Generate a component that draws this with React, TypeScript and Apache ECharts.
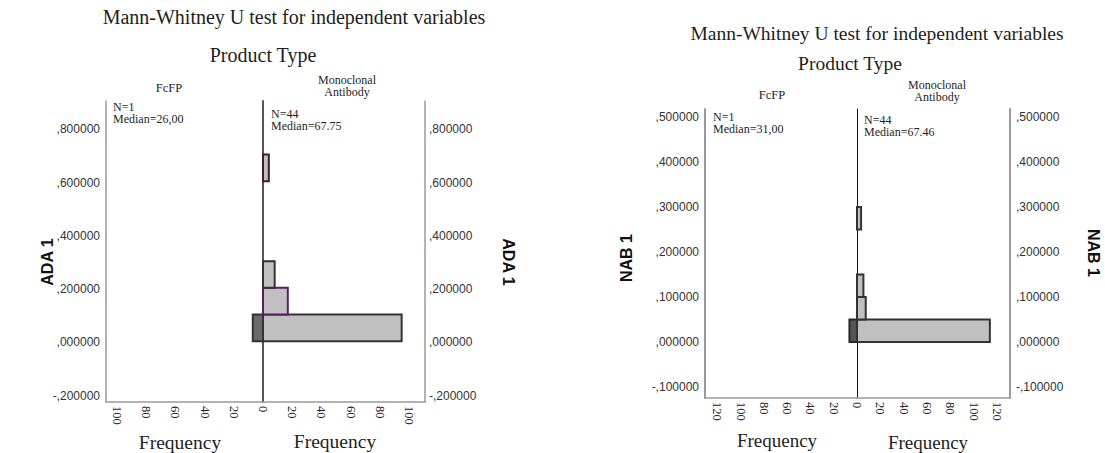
import React, { useEffect, useRef } from "react";
import * as echarts from "echarts";

// ADA 1 histogram bins (value range) and frequencies per product type
const adaBinStart = [0.005, 0.105, 0.205, 0.605];
const adaBinEnd = [0.105, 0.205, 0.305, 0.705];
const adaMonoFreq = [95, 17, 8, 4];
const adaFcfpBinStart = [0.005];
const adaFcfpBinEnd = [0.105];
const adaFcfpFreq = [7];

// NAB 1 histogram bins and frequencies
const nabBinStart = [0, 0.05, 0.1, 0.25];
const nabBinEnd = [0.05, 0.1, 0.15, 0.3];
const nabMonoFreq = [114, 7.5, 5.5, 3.5];
const nabFcfpBinStart = [0];
const nabFcfpBinEnd = [0.05];
const nabFcfpFreq = [6.5];

// Tick labels
const adaYTicks = [-0.2, 0, 0.2, 0.4, 0.6, 0.8];
const nabYTicks = [-0.1, 0, 0.1, 0.2, 0.3, 0.4, 0.5];
const adaFreqTicks = [0, 20, 40, 60, 80, 100];
const nabFreqTicks = [0, 20, 40, 60, 80, 100, 120];

// Group annotations
const adaFcfpStats = ["N=1", "Median=26,00"];
const adaMonoStats = ["N=44", "Median=67.75"];
const nabFcfpStats = ["N=1", "Median=31,00"];
const nabMonoStats = ["N=44", "Median=67.46"];

const titleText = "Mann-Whitney U test for independent variables";
const panelTitle = "Product Type";
const groupLeft = "FcFP";
const groupRight = ["Monoclonal", "Antibody"];
const freqName = "Frequency";

const SERIF = "'Liberation Serif', 'Times New Roman', serif";
const SANS = "'Liberation Sans', Arial, sans-serif";

const fmtY = (v: number) => {
  const s = Math.abs(v).toFixed(6).replace(/^0\./, ",");
  return (v < 0 ? "-" : "") + s;
};

const bins = (start: number[], end: number[], freq: number[]) =>
  start.map((s, i) => [s, end[i], freq[i]]);

const histRender =
  (fill: string, strokeFor: (i: number) => string) => (params: any, api: any) => {
    const lo = api.coord([0, api.value(0)]);
    const hi = api.coord([api.value(2), api.value(1)]);
    return {
      type: "rect",
      shape: {
        x: Math.min(lo[0], hi[0]),
        y: Math.min(lo[1], hi[1]),
        width: Math.abs(hi[0] - lo[0]),
        height: Math.abs(hi[1] - lo[1]),
      },
      style: { fill, stroke: strokeFor(params.dataIndex), lineWidth: 2 },
    };
  };

const frameColor = "#9a9a9a";

const yLabel = (ticks: number[], margin: number) => ({
  customValues: ticks,
  formatter: (v: number) => fmtY(v),
  fontFamily: SANS,
  fontSize: 12,
  color: "#333",
  margin,
});

const xAxisFor = (gridIndex: number, max: number, ticks: number[], inverse: boolean) => ({
  type: "value",
  gridIndex,
  min: 0,
  max,
  inverse,
  position: "bottom",
  axisLine: { show: true, onZero: false, lineStyle: { color: frameColor, width: 1.5 } },
  axisTick: { show: false },
  splitLine: { show: false },
  axisLabel: {
    customValues: inverse ? ticks.filter((t) => t > 0) : ticks,
    rotate: -90,
    fontFamily: SERIF,
    fontSize: 12.5,
    color: "#222",
    margin: 4,
  },
});

const yAxisFor = (
  gridIndex: number,
  min: number,
  max: number,
  position: string,
  lineColor: string,
  lineWidth: number,
  label: any
) => ({
  type: "value",
  gridIndex,
  min,
  max,
  position,
  axisLine: { show: true, onZero: false, lineStyle: { color: lineColor, width: lineWidth } },
  axisTick: { show: false },
  splitLine: { show: false },
  axisLabel: label ? label : { show: false },
});

const txt = (
  text: string,
  x: number,
  y: number,
  size: number,
  opts: any = {}
) => ({
  type: "text",
  x,
  y,
  rotation: opts.rotation || 0,
  style: {
    text,
    x: 0,
    y: 0,
    font: `${opts.weight || "normal"} ${size}px ${opts.family || SERIF}`,
    fill: opts.fill || "#1e1e1e",
    align: opts.align || "center",
    verticalAlign: "middle",
  },
});

export default function App() {
  const ref = useRef<HTMLDivElement>(null);

  useEffect(() => {
    if (!ref.current) return;
    const chart = echarts.init(ref.current, null, { renderer: "svg" });

    const adaMin = -0.2233;
    const adaMax = 0.906;
    const nabMin = -0.1244;
    const nabMax = 0.5178;

    const adaHighlight = (i: number) => (i === 1 ? "#5e1a62" : i === 3 ? "#3a2228" : "#333");

    chart.setOption({
      animation: false,
      backgroundColor: "#ffffff",
      grid: [
        { left: 106, top: 101, width: 157, height: 301 },
        { left: 263, top: 101, width: 162, height: 301 },
        { left: 705, top: 109, width: 152, height: 289 },
        { left: 857, top: 109, width: 153, height: 289 },
      ],
      xAxis: [
        xAxisFor(0, 107.5, adaFreqTicks, true),
        xAxisFor(1, 111, adaFreqTicks, false),
        xAxisFor(2, 130.5, nabFreqTicks, true),
        xAxisFor(3, 131.3, nabFreqTicks, false),
      ],
      yAxis: [
        yAxisFor(0, adaMin, adaMax, "left", frameColor, 1.5, yLabel(adaYTicks, 6)),
        yAxisFor(1, adaMin, adaMax, "left", "#555", 2, null),
        yAxisFor(1, adaMin, adaMax, "right", frameColor, 1.5, yLabel(adaYTicks, 4)),
        yAxisFor(2, nabMin, nabMax, "left", frameColor, 2, yLabel(nabYTicks, 6)),
        yAxisFor(3, nabMin, nabMax, "left", "#111", 1, null),
        yAxisFor(3, nabMin, nabMax, "right", frameColor, 2, yLabel(nabYTicks, 6)),
      ],
      series: [
        {
          type: "custom",
          xAxisIndex: 0,
          yAxisIndex: 0,
          encode: { x: 2, y: [0, 1] },
          data: bins(adaFcfpBinStart, adaFcfpBinEnd, adaFcfpFreq),
          renderItem: histRender("#6a6a6a", () => "#333"),
        },
        {
          type: "custom",
          xAxisIndex: 1,
          yAxisIndex: 1,
          encode: { x: 2, y: [0, 1] },
          data: bins(adaBinStart, adaBinEnd, adaMonoFreq),
          renderItem: histRender("#c0c0c0", adaHighlight),
        },
        {
          type: "custom",
          xAxisIndex: 2,
          yAxisIndex: 3,
          encode: { x: 2, y: [0, 1] },
          data: bins(nabFcfpBinStart, nabFcfpBinEnd, nabFcfpFreq),
          renderItem: histRender("#555555", () => "#2a2a2a"),
        },
        {
          type: "custom",
          xAxisIndex: 3,
          yAxisIndex: 4,
          encode: { x: 2, y: [0, 1] },
          data: bins(nabBinStart, nabBinEnd, nabMonoFreq),
          renderItem: histRender("#c0c0c0", () => "#333"),
        },
      ],
      graphic: [
        // ADA 1 panel
        txt(titleText, 294, 17, 20),
        txt(panelTitle, 263, 55, 20),
        txt(groupLeft, 169, 88, 12.5),
        txt(groupRight[0], 347, 80, 12),
        txt(groupRight[1], 347, 92, 12),
        txt(adaFcfpStats[0], 113, 106.5, 12, { align: "left" }),
        txt(adaFcfpStats[1], 113, 119, 12, { align: "left" }),
        txt(adaMonoStats[0], 271, 114, 12, { align: "left" }),
        txt(adaMonoStats[1], 271, 126, 12, { align: "left" }),
        txt("ADA 1", 47, 262, 16, { family: SANS, weight: "bold", rotation: Math.PI / 2, fill: "#111" }),
        txt("ADA 1", 508, 262, 16, { family: SANS, weight: "bold", rotation: -Math.PI / 2, fill: "#111" }),
        txt(freqName, 180, 442, 19.5),
        txt(freqName, 335, 441, 19.5),
        // NAB 1 panel
        txt(titleText, 877, 33, 19.5),
        txt(panelTitle, 850, 63, 19.5),
        txt(groupLeft, 772, 95, 12.5),
        txt(groupRight[0], 937, 85, 12),
        txt(groupRight[1], 937, 97, 12),
        txt(nabFcfpStats[0], 713, 117, 12, { align: "left" }),
        txt(nabFcfpStats[1], 713, 129, 12, { align: "left" }),
        txt(nabMonoStats[0], 864, 120, 12, { align: "left" }),
        txt(nabMonoStats[1], 864, 132, 12, { align: "left" }),
        txt("NAB 1", 626, 258, 16, { family: SANS, weight: "bold", rotation: Math.PI / 2, fill: "#111" }),
        txt("NAB 1", 1093, 253, 16, { family: SANS, weight: "bold", rotation: -Math.PI / 2, fill: "#111" }),
        txt(freqName, 777, 440, 19),
        txt(freqName, 928, 442, 19),
      ],
    });

    return () => chart.dispose();
  }, []);

  return (
    <div
      ref={ref}
      style={{ position: "fixed", left: 0, top: 0, width: 1105, height: 453, background: "#fff" }}
    />
  );
}
